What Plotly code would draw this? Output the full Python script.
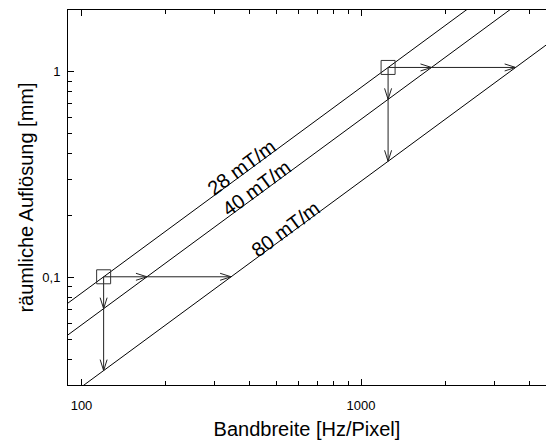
import numpy as np
import plotly.graph_objects as go

# Spatial resolution vs. receiver bandwidth for three gradient strengths
bandwidth_ends = [80, 6000]                 # Hz/Pixel
gradients = ["28 mT/m", "40 mT/m", "80 mT/m"]
resolution_28 = [0.0671, 5.03]              # mm at bandwidth_ends
resolution_40 = [0.0470, 3.52]
resolution_80 = [0.0235, 1.76]
label_bandwidth = [375, 423, 537]           # where the gradient labels sit

# Two worked examples (squares) with arrows to the stronger gradients
example_bandwidth = [120, 1250]
example_resolution = [0.1007, 1.049]

x_tickvals = [100, 1000]
x_ticktext = ["100", "1000"]
x_minor = [200, 300, 400, 500, 600, 700, 800, 900, 2000, 3000, 4000, 5000]
y_tickvals = [0.1, 1]
y_ticktext = ["0,1", "1"]
y_minor = [0.03, 0.04, 0.05, 0.06, 0.07, 0.08, 0.09,
           0.2, 0.3, 0.4, 0.5, 0.6, 0.7, 0.8, 0.9]

resolution = dict(zip(gradients, [resolution_28, resolution_40, resolution_80]))

# Figure geometry
W, H = 546, 444
ML, MR, MT, MB = 68, 0, 10, 59
XR = [1.9517, 3.6619]
YR = [-1.523, 0.300]
PX_X = (W - ML - MR) / (XR[1] - XR[0])   # pixels per decade
PX_Y = (H - MT - MB) / (YR[1] - YR[0])
FONT = "Liberation Sans, Arial, sans-serif"

LX = np.log10(bandwidth_ends)


def res_on_line(g, bw):
    ly = np.log10(resolution[g])
    return 10 ** np.interp(np.log10(bw), LX, ly)


def bw_on_line(g, res):
    ly = np.log10(resolution[g])
    return 10 ** np.interp(np.log10(res), ly, LX)


def arrow_head(bw, res, direction, length=11, half=3.5):
    """Open V head at (bw, res); direction is a unit vector in screen pixels (y up)."""
    dx, dy = direction
    px, py = -dy, dx
    tx, ty = np.log10(bw), np.log10(res)
    xs, ys = [], []
    for s in (1, -1):
        bx = tx + (-length * dx + s * half * px) / PX_X
        by = ty + (-length * dy + s * half * py) / PX_Y
        xs += [10 ** bx, bw, None]
        ys += [10 ** by, res, None]
    return xs, ys


fig = go.Figure()

for g in gradients:
    fig.add_trace(go.Scatter(
        x=bandwidth_ends, y=resolution[g], mode="lines",
        line=dict(color="black", width=1), showlegend=False, hoverinfo="skip"))

arrow_x, arrow_y = [], []
for bw0, r0 in zip(example_bandwidth, example_resolution):
    # horizontal: same resolution with stronger gradients
    h_targets = [bw_on_line(g, r0) for g in gradients[1:]]
    arrow_x += [bw0, max(h_targets), None]
    arrow_y += [r0, r0, None]
    for t in h_targets:
        hx, hy = arrow_head(t, r0, (1, 0))
        arrow_x += hx
        arrow_y += hy
    # vertical: same bandwidth with stronger gradients
    v_targets = [res_on_line(g, bw0) for g in gradients[1:]]
    arrow_x += [bw0, bw0, None]
    arrow_y += [r0, min(v_targets), None]
    for t in v_targets:
        hx, hy = arrow_head(bw0, t, (0, -1))
        arrow_x += hx
        arrow_y += hy

fig.add_trace(go.Scatter(
    x=arrow_x, y=arrow_y, mode="lines",
    line=dict(color="#222222", width=1), showlegend=False, hoverinfo="skip"))

fig.add_trace(go.Scatter(
    x=example_bandwidth, y=example_resolution, mode="markers",
    marker=dict(symbol="square-open", size=14, color="#333333",
                line=dict(width=1, color="#333333")),
    showlegend=False, hoverinfo="skip"))

angle = np.degrees(np.arctan(PX_Y / PX_X))
for g, bw in zip(gradients, label_bandwidth):
    fig.add_annotation(
        x=np.log10(bw), y=np.log10(res_on_line(g, bw)), xref="x", yref="y",
        text=g, showarrow=False, textangle=-angle, yshift=8,
        font=dict(family=FONT, size=20, color="black"))

fig.update_layout(
    width=W, height=H,
    margin=dict(l=ML, r=MR, t=MT, b=MB),
    paper_bgcolor="white", plot_bgcolor="white",
    font=dict(family=FONT, color="black"),
    xaxis=dict(
        type="log", range=XR, tickvals=x_tickvals, ticktext=x_ticktext,
        ticks="inside", ticklen=6, tickwidth=1, tickcolor="black",
        showline=True, linecolor="black", linewidth=1, mirror="ticks",
        showgrid=False, zeroline=False, tickfont=dict(size=13),
        ticklabelstandoff=8,
        minor=dict(tickvals=x_minor, ticks="inside", ticklen=4,
                   tickcolor="black", showgrid=False),
        title=dict(text="Bandbreite [Hz/Pixel]", font=dict(size=20), standoff=10),
    ),
    yaxis=dict(
        type="log", range=YR, tickvals=y_tickvals, ticktext=y_ticktext,
        ticks="inside", ticklen=6, tickwidth=1, tickcolor="black",
        showline=True, linecolor="black", linewidth=1, mirror=False,
        showgrid=False, zeroline=False, tickfont=dict(size=13),
        ticklabelstandoff=4,
        minor=dict(tickvals=y_minor, ticks="inside", ticklen=4,
                   tickcolor="black", showgrid=False),
        title=dict(text="räumliche Auflösung [mm]", font=dict(size=20), standoff=3),
    ),
)

fig.write_html("out.html")
